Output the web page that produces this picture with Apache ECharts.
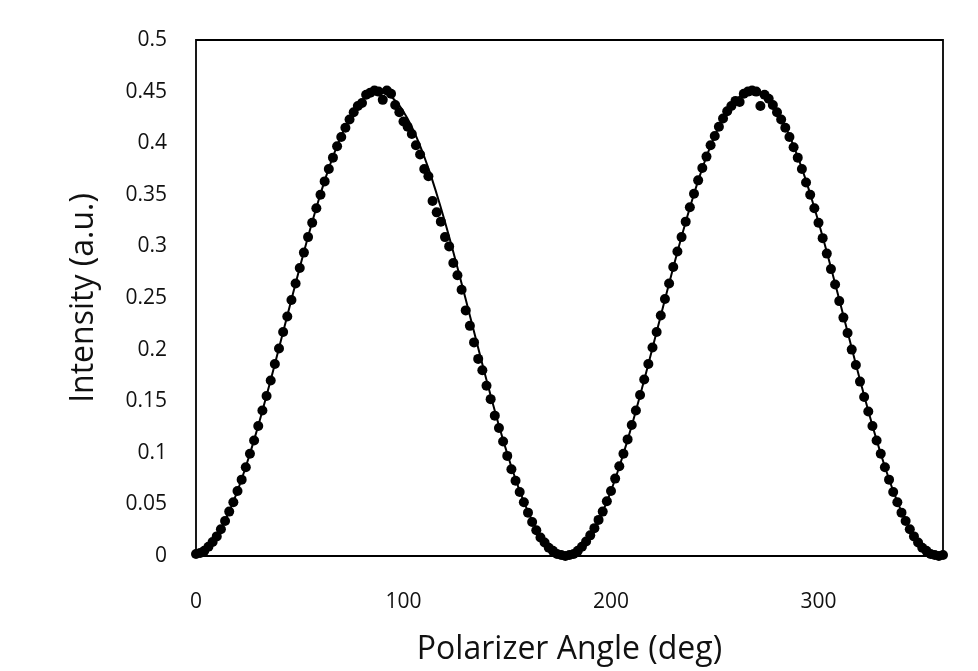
<!DOCTYPE html>
<html>
<head>
<meta charset="utf-8">
<script src="https://cdn.jsdelivr.net/npm/echarts@6/dist/echarts.min.js"></script>
<style>
html,body{margin:0;padding:0;background:#fff;}
#chart{width:978px;height:671px;}
</style>
</head>
<body>
<div id="chart"></div>
<script>
// Measured data: polarizer angle (deg) and intensity (a.u.)
var measAngles = [0,2,4,6,8,10,12,14,16,18,20,22,24,26,28,30,32,34,36,38,40,42,44,46,48,50,52,54,56,58,60,62,64,66,68,70,72,74,76,78,80,82,84,86,88,90,92,94,96,98,100,102,104,106,108,110,112,114,116,118,120,122,124,126,128,130,132,134,136,138,140,142,144,146,148,150,152,154,156,158,160,162,164,166,168,170,172,174,176,178,180,182,184,186,188,190,192,194,196,198,200,202,204,206,208,210,212,214,216,218,220,222,224,226,228,230,232,234,236,238,240,242,244,246,248,250,252,254,256,258,260,262,264,266,268,270,272,274,276,278,280,282,284,286,288,290,292,294,296,298,300,302,304,306,308,310,312,314,316,318,320,322,324,326,328,330,332,334,336,338,340,342,344,346,348,350,352,354,356,358,360];
var measIntensity = [
0.002,0.003,0.005,0.009,0.0135,0.019,0.026,0.034,0.043,0.052,
0.063,0.074,0.086,0.099,0.112,0.126,0.141,0.155,0.170,0.186,
0.201,0.217,0.232,0.248,0.264,0.279,0.294,0.309,0.323,0.337,
0.350,0.363,0.375,0.386,0.397,0.406,0.415,0.423,0.430,0.436,
0.439,0.447,0.449,0.451,0.450,0.442,0.451,0.448,0.437,0.430,
0.421,0.416,0.409,0.398,0.389,0.375,0.368,0.344,0.333,0.324,
0.309,0.300,0.284,0.272,0.258,0.238,0.223,0.207,0.191,0.180,
0.165,0.152,0.136,0.124,0.111,0.097,0.084,0.073,0.062,0.052,
0.042,0.033,0.025,0.018,0.013,0.008,0.005,0.002,0.001,0.000,
0.001,0.002,0.005,0.009,0.014,0.020,0.027,0.035,0.043,0.053,
0.063,0.075,0.087,0.099,0.113,0.127,0.141,0.156,0.171,0.186,
0.202,0.217,0.233,0.249,0.264,0.280,0.295,0.309,0.324,0.338,
0.351,0.364,0.376,0.387,0.398,0.407,0.416,0.424,0.431,0.436,
0.441,0.440,0.448,0.450,0.451,0.450,0.436,0.447,0.443,0.437,
0.430,0.423,0.415,0.406,0.396,0.386,0.375,0.362,0.350,0.337,
0.323,0.308,0.293,0.278,0.263,0.247,0.231,0.216,0.200,0.185,
0.169,0.154,0.140,0.126,0.112,0.099,0.086,0.074,0.062,0.052,
0.042,0.034,0.026,0.019,0.013,0.008,0.005,0.002,0.001,0.000,
0.001];

// Fitted curve
var fitAngles = [0,4,8,12,16,20,24,28,32,36,40,44,48,52,56,60,64,68,72,76,80,84,88,92,96,100,104,108,112,116,120,124,128,132,136,140,144,148,152,156,160,164,168,172,176,180,184,188,192,196,200,204,208,212,216,220,224,228,232,236,240,244,248,252,256,260,264,268,272,276,280,284,288,292,296,300,304,308,312,316,320,324,328,332,336,340,344,348,352,356,360];
var fitIntensity = [
0.0005,0.0049,0.0136,0.0263,0.0430,0.0631,0.0865,0.1125,0.1407,0.1706,
0.2015,0.2329,0.2641,0.2945,0.3236,0.3508,0.3756,0.3974,0.4158,0.4305,
0.4413,0.4478,0.4500,0.4478,0.4413,0.4305,0.4158,0.3974,0.3756,0.3508,
0.3236,0.2945,0.2641,0.2329,0.2015,0.1706,0.1407,0.1125,0.0865,0.0631,
0.0430,0.0263,0.0136,0.0049,0.0005,
0.0005,0.0049,0.0136,0.0263,0.0430,0.0631,0.0865,0.1125,0.1407,0.1706,
0.2015,0.2329,0.2641,0.2945,0.3236,0.3508,0.3756,0.3974,0.4158,0.4305,
0.4413,0.4478,0.4500,0.4478,0.4413,0.4305,0.4158,0.3974,0.3756,0.3508,
0.3236,0.2945,0.2641,0.2329,0.2015,0.1706,0.1407,0.1125,0.0865,0.0631,
0.0430,0.0263,0.0136,0.0049,0.0005,
0.0005];

var xTitle = 'Polarizer Angle (deg)';
var yTitle = 'Intensity (a.u.)';

var measData = measAngles.map(function(a, i){ return [a, measIntensity[i]]; });
var fitData = fitAngles.map(function(a, i){ return [a, fitIntensity[i]]; });

var FONT = 'Open Sans';
var TXT = '#111';
var chart = echarts.init(document.getElementById('chart'), null, {renderer: 'canvas'});
chart.setOption({
  animation: false,
  backgroundColor: '#fff',
  grid: {left: 196, right: 35, top: 40, bottom: 114, show: true, borderColor: '#000', borderWidth: 1.8, backgroundColor: 'transparent'},
  xAxis: {
    type: 'value', min: 0, max: 360, interval: 100,
    name: xTitle, nameLocation: 'middle', nameGap: 78,
    nameTextStyle: {fontFamily: FONT, fontSize: 32, color: TXT},
    axisLine: {show: false}, axisTick: {show: false}, splitLine: {show: false},
    axisLabel: {fontFamily: FONT, fontSize: 21, color: TXT, margin: 36, showMaxLabel: false}
  },
  yAxis: {
    type: 'value', min: 0, max: 0.5, interval: 0.05,
    name: yTitle, nameLocation: 'middle', nameGap: 96,
    nameTextStyle: {fontFamily: FONT, fontSize: 32, color: TXT},
    axisLine: {show: false}, axisTick: {show: false}, splitLine: {show: false},
    axisLabel: {fontFamily: FONT, fontSize: 21, color: TXT, margin: 29}
  },
  series: [
    {type: 'scatter', data: measData, symbol: 'circle', symbolSize: 10,
     itemStyle: {color: '#000', opacity: 1}, z: 2},
    {type: 'line', data: fitData, smooth: true, showSymbol: false, symbol: 'none',
     lineStyle: {color: '#000', width: 2}, z: 3}
  ]
});
</script>
</body>
</html>
